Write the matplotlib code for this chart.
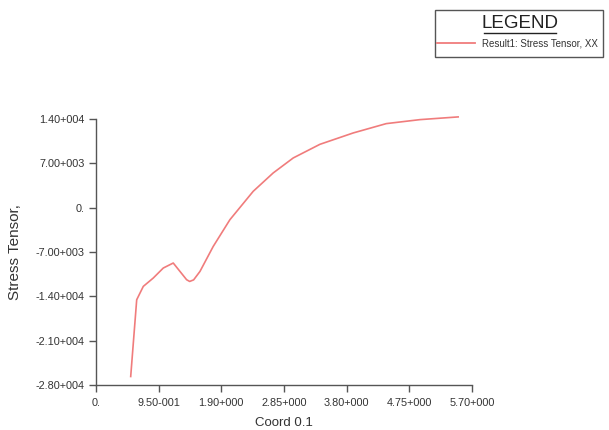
import matplotlib
matplotlib.use('Agg')
import matplotlib.pyplot as plt
from matplotlib.patches import Rectangle
from matplotlib.lines import Line2D

plt.rcParams['font.family'] = ['Liberation Sans', 'DejaVu Sans']

# data
coord = [0.526, 0.617, 0.717, 0.868, 1.020, 1.171, 1.374, 1.420, 1.480, 1.576,
         1.777, 2.03, 2.383, 2.686, 2.99, 3.394, 3.90, 4.40, 4.91, 5.49]
stress = [-26660, -14540, -12430, -11110, -9530, -8740, -11380, -11650, -11400, -10070,
          -6120, -1900, 2580, 5480, 7850, 10000, 11800, 13270, 13900, 14330]

x_ticks = [0, 0.95, 1.90, 2.85, 3.80, 4.75, 5.70]
x_labels = ['0.', '9.50-001', '1.90+000', '2.85+000', '3.80+000', '4.75+000', '5.70+000']
y_ticks = [14000, 7000, 0, -7000, -14000, -21000, -28000]
y_labels = ['1.40+004', '7.00+003', '0.', '-7.00+003', '-1.40+004', '-2.10+004', '-2.80+004']

fig = plt.figure(figsize=(6.09, 4.30), dpi=100)
ax = fig.add_axes([96 / 609, 1 - 385 / 430, 376 / 609, 266 / 430])

line_color = '#f07c7c'
ax.plot(coord, stress, color=line_color, linewidth=1.2, clip_on=False)

ax.set_xlim(0, 5.70)
ax.set_ylim(-28000, 14000)
ax.set_xticks(x_ticks)
ax.set_xticklabels(x_labels)
ax.set_yticks(y_ticks)
ax.set_yticklabels(y_labels)

for side in ['top', 'right']:
    ax.spines[side].set_visible(False)
for side in ['left', 'bottom']:
    ax.spines[side].set_color('#555555')
    ax.spines[side].set_linewidth(1.0)

ax.tick_params(axis='both', colors='#555555', length=5, width=1.0, labelsize=7.8,
               labelcolor='#333333')
ax.tick_params(axis='y', pad=3)
ax.tick_params(axis='x', pad=4)

ax.set_xlabel('Coord 0.1', fontsize=9.5, color='#333333', labelpad=7)
ax.set_ylabel('Stress Tensor,', fontsize=11, color='#333333', labelpad=10)

# legend box drawn in figure coordinates
W, H = 609, 430
box = Rectangle((435 / W, 1 - 57 / H), 168 / W, 47 / H, transform=fig.transFigure,
                facecolor='white', edgecolor='#555555', linewidth=1.0)
fig.patches.append(box)
fig.text(520 / W, 1 - 24 / H, 'LEGEND', ha='center', va='center', fontsize=13.5,
         color='#222222')
fig.lines.append(Line2D([437 / W, 475 / W], [1 - 43 / H, 1 - 43 / H], transform=fig.transFigure,
                        color=line_color, linewidth=1.3))
fig.lines.append(Line2D([484 / W, 556 / W], [1 - 33 / H, 1 - 33 / H], transform=fig.transFigure,
                        color='#222222', linewidth=1.0))
fig.text(482 / W, 1 - 43 / H, 'Result1: Stress Tensor, XX', ha='left', va='center',
         fontsize=7, color='#333333')

fig.savefig('out.png', dpi=100)
